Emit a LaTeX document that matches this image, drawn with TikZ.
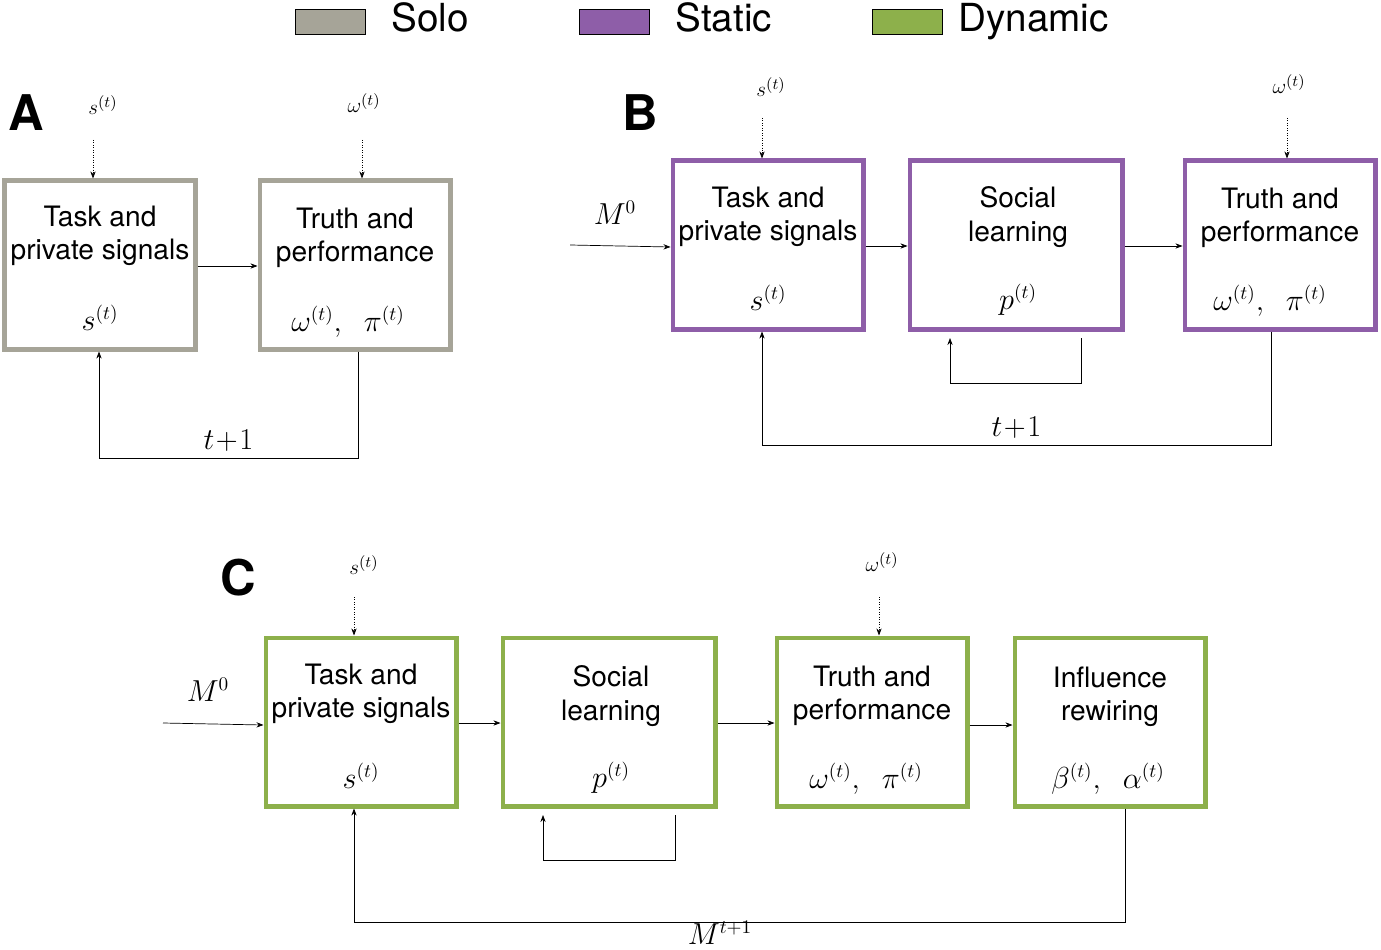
\documentclass[tikz,border=0pt]{standalone}
\usepackage{fontspec}
\setmainfont{TeX Gyre Heros}
\usepackage{amsmath}
\usetikzlibrary{arrows.meta,positioning}
\definecolor{solo}{RGB}{166,164,152}
\definecolor{static}{RGB}{142,94,168}
\definecolor{dynamic}{RGB}{141,176,75}
\begin{document}
\begin{tikzpicture}[x=0.02cm,y=-0.02cm,
	box/.style={draw=#1,line width=2.3pt,minimum width=3.82cm,minimum height=3.38cm,inner sep=0pt},
	wide/.style={minimum width=4.26cm},
	title/.style={font=\fontsize{16}{19}\selectfont,align=center},
	var/.style={font=\fontsize{16}{19}\selectfont},
	sig/.style={font=\fontsize{13}{15}\selectfont},
	arr/.style={-{Stealth[length=4pt,width=3pt]},thin},
	dots/.style={arr,densely dotted},
	swatch/.style={draw=black,fill=#1,minimum width=1.4cm,minimum height=0.5cm,inner sep=0pt},
	legend/.style={font=\fontsize{22}{26}\selectfont,text height=16pt,text depth=5pt},
	panel/.style={font=\fontsize{28}{32}\selectfont\bfseries}]
\useasboundingbox (0,0) rectangle (1381,949);
% legend
\node[swatch=solo] (l1) at (330,22) {};
\node[right=0.4cm of l1,legend] {Solo};
\node[swatch=static] (l2) at (614,22) {};
\node[right=0.4cm of l2,legend] {Static};
\node[swatch=dynamic] (l3) at (907,22) {};
\node[right=0.2cm of l3,legend] {Dynamic};
% A
\node[panel] at (26,113) {A};
\node[box=solo] (a1) at (100,265) {};
\node[box=solo] (a2) at (355,265) {};
\node[title] at (100,236) {Task and\\private signals};
\node[var] at (100,318) {$s^{(t)}$};
\node[title] at (355,238) {Truth and\\performance};
\node[var] at (348,322) {$\omega^{(t)},\;\;\pi^{(t)}$};
\node[sig] (as) at (103,105) {$s^{(t)}$};
\node[sig] (aw) at (364,103) {$\omega^{(t)}$};
\draw[dots] (93,140) -- (a1.north -| 93,0);
\draw[dots] (362,140) -- (a2.north -| 362,0);
\draw[arr] (a1.east |- 0,266) -- (a2.west |- 0,266);
\coordinate (ar) at (358,458);
\coordinate (al) at (99,458);
\draw[arr] (a2.south -| ar) -- (ar) -- node[above,var] {$t\!+\!1$} (al) -- (a1.south -| al);
% B
\node[panel] at (640,113) {B};
\node[box=static] (b1) at (768,245) {};
\node[box=static,wide] (b2) at (1016,245) {};
\node[box=static] (b3) at (1280,245) {};
\node[title] at (768,217) {Task and\\private signals};
\node[var] at (768,298) {$s^{(t)}$};
\node[title] at (1018,217) {Social\\learning};
\node[var] at (1018,300) {$p^{(t)}$};
\node[title] at (1280,218) {Truth and\\performance};
\node[var] at (1270,301) {$\omega^{(t)},\;\;\pi^{(t)}$};
\node[sig] (bs) at (771,87) {$s^{(t)}$};
\node[sig] (bw) at (1289,84) {$\omega^{(t)}$};
\draw[dots] (762,118) -- (b1.north -| 762,0);
\draw[dots] (1287,118) -- (b3.north -| 1287,0);
\node[var] (bm) at (615,213) {$M^0$};
\coordinate (bin) at (570,245);
\draw[arr] (bin) -- (b1.west |- 0,247);
\draw[arr] (b1.east |- 0,246) -- (b2.west |- 0,246);
\draw[arr] (b2.east |- 0,246) -- (b3.west |- 0,246);
\coordinate (bl1) at (1081,383);
\coordinate (bl2) at (950,383);
\draw[arr] (1081,338) -- (bl1) -- (bl2) -- (950,338);
\coordinate (br) at (1271,445);
\coordinate (bl) at (762,445);
\draw[arr] (b3.south -| br) -- (br) -- node[above,var] {$t\!+\!1$} (bl) -- (b1.south -| bl);
% C
\node[panel] at (238,578) {C};
\node[box=dynamic] (c1) at (361,722) {};
\node[box=dynamic,wide] (c2) at (609,722) {};
\node[box=dynamic] (c3) at (872,722) {};
\node[box=dynamic] (c4) at (1110,722) {};
\node[title] at (361,694) {Task and\\private signals};
\node[var] at (361,776) {$s^{(t)}$};
\node[title] at (611,696) {Social\\learning};
\node[var] at (611,778) {$p^{(t)}$};
\node[title] at (872,696) {Truth and\\performance};
\node[var] at (866,779) {$\omega^{(t)},\;\;\pi^{(t)}$};
\node[title] at (1110,697) {Influence\\rewiring};
\node[var] at (1108,779) {$\beta^{(t)},\;\;\alpha^{(t)}$};
\node[sig] (cs) at (364,565) {$s^{(t)}$};
\node[sig] (cw) at (882,562) {$\omega^{(t)}$};
\draw[dots] (354,597) -- (c1.north -| 354,0);
\draw[dots] (879,597) -- (c3.north -| 879,0);
\node[var] (cm) at (208,690) {$M^0$};
\coordinate (cin) at (163,723);
\draw[arr] (cin) -- (c1.west |- 0,725);
\draw[arr] (c1.east |- 0,723) -- (c2.west |- 0,723);
\draw[arr] (c2.east |- 0,723) -- (c3.west |- 0,723);
\draw[arr] (c3.east |- 0,725) -- (c4.west |- 0,725);
\coordinate (cl1) at (675,860);
\coordinate (cl2) at (543,860);
\draw[arr] (675,815) -- (cl1) -- (cl2) -- (543,815);
\coordinate (cr) at (1125,922);
\coordinate (cl) at (354,922);
\draw[arr] (c4.south -| cr) -- (cr) -- (cl) -- (c1.south -| cl);
\node[var,inner sep=1pt] at (720,933) {$M^{t+1}$};
\end{tikzpicture}
\end{document}
